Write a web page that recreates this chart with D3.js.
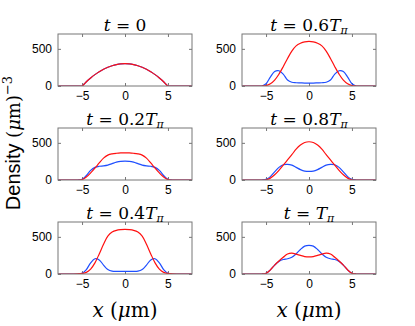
<!DOCTYPE html>
<html><head><meta charset="utf-8">
<script src="https://cdn.jsdelivr.net/npm/d3@7"></script>
<style>body{margin:0;background:#fff}svg{display:block}</style>
</head><body><svg id="c" width="415" height="326"></svg>
<script>
// positions (μm)
const xs = [-8, -6, -5.5, -5, -4.5, -4, -3.5, -3, -2.5, -2, -1.5, -1, -0.5, 0, 0.5, 1, 1.5, 2, 2.5, 3, 3.5, 4, 4.5, 5, 5.5, 6, 8];
const panelTitles = ["0", "0.2", "0.4", "0.6", "0.8", "1"];
// red component density per panel
const red_t0   = [0,0,0,0,57,108,153,192,225,252,273,288,297,300,297,288,273,252,225,192,153,108,57,0,0,0,0];
const red_t02  = [0,0,0,5,40,95,160,230,295,335,352,360,364,365,364,360,352,335,295,230,160,95,40,5,0,0,0];
const red_t04  = [0,0,2,8,22,65,150,270,400,510,565,588,597,600,597,588,565,510,400,270,150,65,22,8,2,0,0];
const red_t06  = [0,0,0,5,30,80,160,260,370,470,540,575,595,600,595,575,540,470,370,260,160,80,30,5,0,0,0];
const red_t08  = [0,0,0,3,25,70,130,200,270,340,415,470,505,515,505,470,415,340,270,200,130,70,25,3,0,0,0];
const red_t1   = [0,0,0,10,55,120,175,225,270,280,268,250,235,230,235,250,268,280,270,225,175,120,55,10,0,0,0];
// blue component density per panel
const blue_t0  = [0,0,0,0,57,108,153,192,225,252,273,288,297,300,297,288,273,252,225,192,153,108,57,0,0,0,0];
const blue_t02 = [0,0,0,10,60,130,170,185,190,200,220,240,252,255,252,240,220,200,190,185,170,130,60,10,0,0,0];
const blue_t04 = [0,0,0,10,60,150,205,190,120,60,38,35,35,35,35,35,38,60,120,190,205,150,60,10,0,0,0];
const blue_t06 = [0,0,0,30,120,195,205,160,80,50,44,42,40,40,40,42,44,50,80,160,205,195,120,30,0,0,0];
const blue_t08 = [0,0,0,8,45,110,170,205,210,200,170,140,120,115,120,140,170,200,210,205,170,110,45,8,0,0,0];
const blue_t1  = [0,0,0,10,55,120,170,195,205,225,270,330,375,385,375,330,270,225,205,195,170,120,55,10,0,0,0];
const xTicks = [-5, 0, 5];
const yTicks = [0, 500];

const panels = [
  {t: panelTitles[0], red: red_t0,  blue: blue_t0,  col: 0, row: 0},
  {t: panelTitles[1], red: red_t02, blue: blue_t02, col: 0, row: 1},
  {t: panelTitles[2], red: red_t04, blue: blue_t04, col: 0, row: 2},
  {t: panelTitles[3], red: red_t06, blue: blue_t06, col: 1, row: 0},
  {t: panelTitles[4], red: red_t08, blue: blue_t08, col: 1, row: 1},
  {t: panelTitles[5], red: red_t1,  blue: blue_t1,  col: 1, row: 2},
];

const svg = d3.select("#c");
const W = 134, H = 52;
const lefts = [58, 242], tops = [34, 128, 222];
const x = d3.scaleLinear().domain([-7.8, 7.8]).range([0, W]);
const y = d3.scaleLinear().domain([0, 700]).range([H, 0]);
const frameCol = "#777";
const SERIF = "'DejaVu Serif', serif";
const SANS = "'Liberation Sans', Arial, sans-serif";

svg.append("defs").append("clipPath").attr("id", "clip")
  .append("rect").attr("width", W).attr("height", H);

panels.forEach((p, i) => {
  const g = svg.append("g").attr("transform", `translate(${lefts[p.col]},${tops[p.row]})`);
  const axB = d3.axisBottom(x).tickValues(xTicks).tickSize(-3).tickPadding(5)
    .tickFormat(d => d < 0 ? "\u2212" + Math.abs(d) : d);
  const axT = d3.axisTop(x).tickValues(xTicks).tickSize(-3).tickFormat("");
  const axL = d3.axisLeft(y).tickValues(yTicks).tickSize(-3).tickPadding(6);
  const axR = d3.axisRight(y).tickValues(yTicks).tickSize(-3).tickFormat("");
  const styleAx = s => {
    s.select(".domain").remove();
    s.selectAll("line").attr("stroke", frameCol);
    s.selectAll("text").attr("font-family", SANS).attr("font-size", 12).attr("fill", "#000");
  };
  g.append("g").attr("transform", `translate(0,${H})`).call(axB).call(styleAx);
  g.append("g").call(axT).call(styleAx);
  g.append("g").call(axL).call(styleAx);
  g.append("g").attr("transform", `translate(${W},0)`).call(axR).call(styleAx);

  const line = d3.line().x((d, j) => x(xs[j])).y(d => y(d)).curve(d3.curveCatmullRom.alpha(0.5));
  const cg = g.append("g").attr("clip-path", "url(#clip)");
  cg.append("path").datum(p.blue).attr("d", line).attr("fill", "none").attr("stroke", "#1f4fff").attr("stroke-width", 1.2);
  cg.append("path").datum(p.red).attr("d", line).attr("fill", "none").attr("stroke", "#ff1010").attr("stroke-width", 1.2);

  g.append("rect").attr("width", W).attr("height", H).attr("fill", "none").attr("stroke", frameCol).attr("stroke-width", 1);

  // title
  const tt = g.append("text").attr("x", W / 2).attr("y", -3).attr("text-anchor", "middle")
    .style("font-family", SERIF).attr("font-size", 17).attr("fill", "#000");
  tt.append("tspan").attr("font-style", "italic").text("t");
  tt.append("tspan").text(" = " + (p.t === "0" ? "0" : (p.t === "1" ? "" : p.t)));
  if (p.t !== "0") {
    tt.append("tspan").attr("font-style", "italic").text("T");
    tt.append("tspan").attr("font-style", "italic").attr("font-size", 11).attr("dy", 3).text("\u03c0");
  }
});

// x labels
[0, 1].forEach(c => {
  const t = svg.append("text").attr("x", lefts[c] + W / 2).attr("y", 317).attr("text-anchor", "middle")
    .style("font-family", SERIF).attr("font-size", 20).attr("fill", "#000");
  t.append("tspan").attr("font-style", "italic").text("x");
  t.append("tspan").text(" (");
  t.append("tspan").attr("font-style", "italic").text("\u03bc");
  t.append("tspan").text("m)");
});

// y label
const yl = svg.append("text").attr("transform", "translate(20,143) rotate(-90)").attr("text-anchor", "middle")
  .attr("font-size", 20).attr("fill", "#000");
yl.append("tspan").style("font-family", SANS).text("Density ");
yl.append("tspan").style("font-family", SERIF).attr("font-size", 18).text("(");
yl.append("tspan").style("font-family", SERIF).attr("font-size", 18).attr("font-style", "italic").text("\u03bc");
yl.append("tspan").style("font-family", SERIF).attr("font-size", 18).text("m)");
yl.append("tspan").style("font-family", SERIF).attr("font-size", 13).attr("dy", -8).text("\u22123");
</script></body></html>
